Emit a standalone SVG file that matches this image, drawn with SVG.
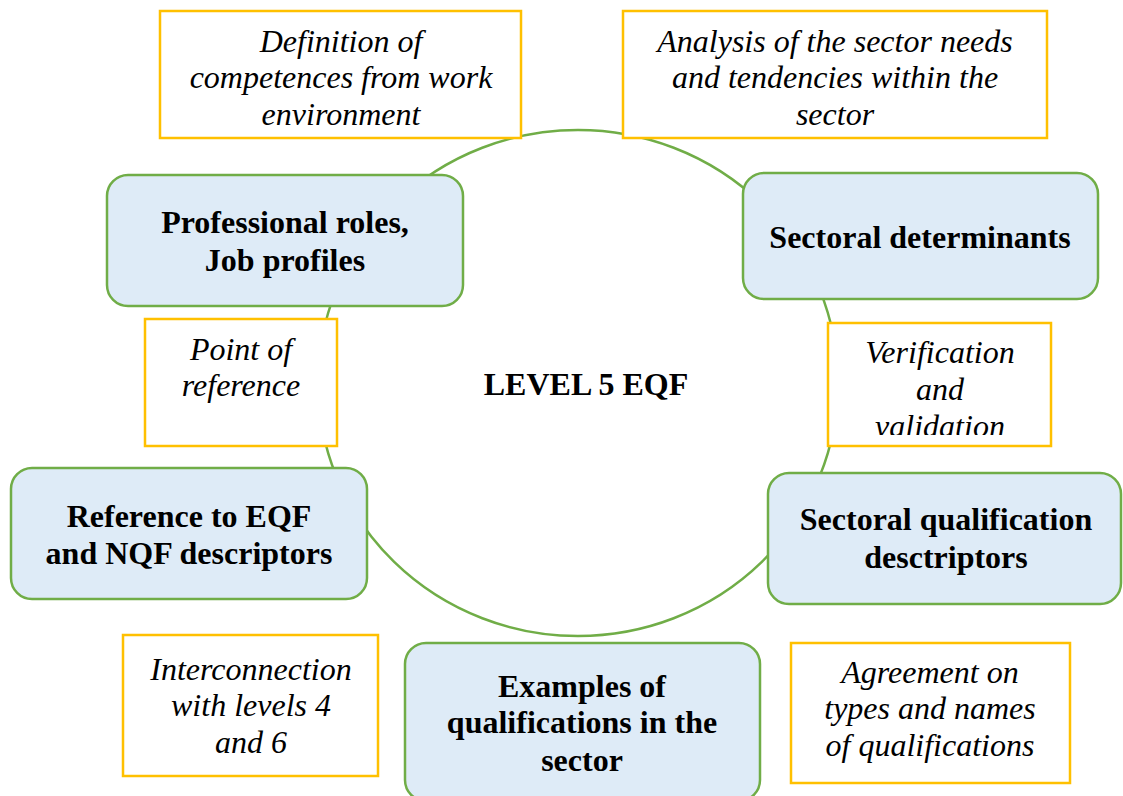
<svg xmlns="http://www.w3.org/2000/svg" width="1123" height="796" viewBox="0 0 1123 796">
  <style>
    .ring { fill: none; stroke: #70AD47; stroke-width: 2.5; }
    .main { fill: #DEEBF7; stroke: #70AD47; stroke-width: 2.5; }
    .note { fill: #FFFFFF; stroke: #FFC000; stroke-width: 2.5; }
    .bold { font-weight: bold; font-size: 32px; fill: #000; text-anchor: middle; }
    .ital { font-style: italic; font-size: 32px; fill: #000; text-anchor: middle; }
  </style>
  <defs>
    <clipPath id="clip-verify">
      <rect x="830" y="325" width="219" height="110"/>
    </clipPath>
  </defs>

  <rect width="1123" height="796" fill="#FFFFFF"/>

  <!-- ring linking the stages -->
  <g id="connectors">
    <ellipse class="ring" cx="578" cy="383" rx="260" ry="253"/>
  </g>

  <!-- centre title -->
  <g id="title">
    <text class="bold" style="font-family: 'Liberation Serif', serif" x="586" y="395">LEVEL 5 EQF</text>
  </g>

  <!-- notes (yellow) -->
  <g id="note-definition">
    <rect class="note" x="160" y="11" width="361" height="127"/>
    <text class="ital" style="font-family: 'Liberation Serif', serif" x="341" y="52">Definition of</text>
    <text class="ital" style="font-family: 'Liberation Serif', serif" x="341" y="88">competences from work</text>
    <text class="ital" style="font-family: 'Liberation Serif', serif" x="341" y="125">environment</text>
  </g>

  <g id="note-analysis">
    <rect class="note" x="623" y="11" width="424" height="127"/>
    <text class="ital" style="font-family: 'Liberation Serif', serif" x="835" y="52">Analysis of the sector needs</text>
    <text class="ital" style="font-family: 'Liberation Serif', serif" x="835" y="88">and tendencies within the</text>
    <text class="ital" style="font-family: 'Liberation Serif', serif" x="835" y="125">sector</text>
  </g>

  <g id="note-reference">
    <rect class="note" x="145" y="319" width="192" height="127"/>
    <text class="ital" style="font-family: 'Liberation Serif', serif" x="241" y="360">Point of</text>
    <text class="ital" style="font-family: 'Liberation Serif', serif" x="241" y="396">reference</text>
  </g>

  <g id="note-verification">
    <rect class="note" x="828" y="323" width="223" height="123"/>
    <g clip-path="url(#clip-verify)">
      <text class="ital" style="font-family: 'Liberation Serif', serif" x="940" y="363">Verification</text>
      <text class="ital" style="font-family: 'Liberation Serif', serif" x="940" y="400">and</text>
      <text class="ital" style="font-family: 'Liberation Serif', serif" x="940" y="437">validation</text>
    </g>
  </g>

  <g id="note-interconnection">
    <rect class="note" x="123" y="635" width="255" height="141"/>
    <text class="ital" style="font-family: 'Liberation Serif', serif" x="251" y="680">Interconnection</text>
    <text class="ital" style="font-family: 'Liberation Serif', serif" x="251" y="716">with levels 4</text>
    <text class="ital" style="font-family: 'Liberation Serif', serif" x="251" y="753">and 6</text>
  </g>

  <g id="note-agreement">
    <rect class="note" x="791" y="643" width="279" height="140"/>
    <text class="ital" style="font-family: 'Liberation Serif', serif" x="930" y="683">Agreement on</text>
    <text class="ital" style="font-family: 'Liberation Serif', serif" x="930" y="719">types and names</text>
    <text class="ital" style="font-family: 'Liberation Serif', serif" x="930" y="756">of qualifications</text>
  </g>

  <!-- main stages (blue) -->
  <g id="node-roles">
    <rect class="main" x="107" y="175" width="356" height="131" rx="21" ry="21"/>
    <text class="bold" style="font-family: 'Liberation Serif', serif" x="285" y="233">Professional roles,</text>
    <text class="bold" style="font-family: 'Liberation Serif', serif" x="285" y="271">Job profiles</text>
  </g>

  <g id="node-determinants">
    <rect class="main" x="743" y="173" width="355" height="126" rx="21" ry="21"/>
    <text class="bold" style="font-family: 'Liberation Serif', serif" x="920" y="248">Sectoral determinants</text>
  </g>

  <g id="node-eqf">
    <rect class="main" x="11" y="468" width="356" height="131" rx="21" ry="21"/>
    <text class="bold" style="font-family: 'Liberation Serif', serif" x="189" y="527">Reference to EQF</text>
    <text class="bold" style="font-family: 'Liberation Serif', serif" x="189" y="564">and NQF descriptors</text>
  </g>

  <g id="node-descriptors">
    <rect class="main" x="768" y="473" width="353" height="131" rx="21" ry="21"/>
    <text class="bold" style="font-family: 'Liberation Serif', serif" x="946" y="530">Sectoral qualification</text>
    <text class="bold" style="font-family: 'Liberation Serif', serif" x="946" y="568">desctriptors</text>
  </g>

  <g id="node-examples">
    <rect class="main" x="405" y="643" width="355" height="158" rx="21" ry="21"/>
    <text class="bold" style="font-family: 'Liberation Serif', serif" x="582" y="697">Examples of</text>
    <text class="bold" style="font-family: 'Liberation Serif', serif" x="582" y="733">qualifications in the</text>
    <text class="bold" style="font-family: 'Liberation Serif', serif" x="582" y="771">sector</text>
  </g>
</svg>
